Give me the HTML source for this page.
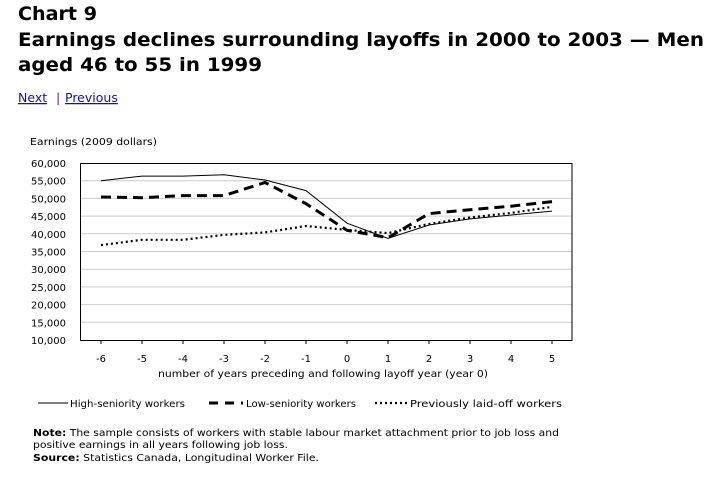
<!DOCTYPE html>
<html><head><meta charset="utf-8"><style>
body{margin:0;background:#fff;width:715px;height:472px;overflow:hidden}
svg text{font-family:"DejaVu Sans","Liberation Sans",sans-serif}
</style></head><body>
<svg width="715" height="472" xmlns="http://www.w3.org/2000/svg">
<g font-weight="bold" font-size="19" fill="#000">
<text x="18" y="20" textLength="79" lengthAdjust="spacingAndGlyphs">Chart 9</text>
<text x="18" y="46" textLength="686" lengthAdjust="spacingAndGlyphs">Earnings declines surrounding layoffs in 2000 to 2003 — Men</text>
<text x="18" y="71" textLength="244" lengthAdjust="spacingAndGlyphs">aged 46 to 55 in 1999</text>
</g>
<g font-size="12.5" fill="#1a0dab">
<text x="18" y="102" text-decoration="underline">Next</text>
<text x="56" y="102" fill="#551a8b">|</text>
<text x="65" y="102" text-decoration="underline">Previous</text>
</g>
<text x="30" y="145" font-size="10" textLength="127" lengthAdjust="spacingAndGlyphs">Earnings (2009 dollars)</text>
<g stroke="#ccc" stroke-width="1">
<line x1="80" x2="572" y1="180.7" y2="180.7"/><line x1="80" x2="572" y1="198.4" y2="198.4"/>
<line x1="80" x2="572" y1="216.1" y2="216.1"/><line x1="80" x2="572" y1="233.8" y2="233.8"/>
<line x1="80" x2="572" y1="251.5" y2="251.5"/><line x1="80" x2="572" y1="269.2" y2="269.2"/>
<line x1="80" x2="572" y1="286.9" y2="286.9"/><line x1="80" x2="572" y1="304.6" y2="304.6"/>
<line x1="80" x2="572" y1="322.3" y2="322.3"/>
</g>
<rect x="80.5" y="163.5" width="491.5" height="177" fill="none" stroke="#000"/>
<g font-size="10" text-anchor="end">
<text x="66" y="167">60,000</text><text x="66" y="184.7">55,000</text><text x="66" y="202.4">50,000</text>
<text x="66" y="220.1">45,000</text><text x="66" y="237.8">40,000</text><text x="66" y="255.5">35,000</text>
<text x="66" y="273.2">30,000</text><text x="66" y="290.9">25,000</text><text x="66" y="308.6">20,000</text>
<text x="66" y="326.3">15,000</text><text x="66" y="344">10,000</text>
</g>
<g stroke="#000">
<line x1="101" x2="101" y1="340" y2="344"/><line x1="142" x2="142" y1="340" y2="344"/><line x1="183" x2="183" y1="340" y2="344"/>
<line x1="224" x2="224" y1="340" y2="344"/><line x1="265" x2="265" y1="340" y2="344"/><line x1="306" x2="306" y1="340" y2="344"/>
<line x1="347" x2="347" y1="340" y2="344"/><line x1="388" x2="388" y1="340" y2="344"/><line x1="429" x2="429" y1="340" y2="344"/>
<line x1="470" x2="470" y1="340" y2="344"/><line x1="511" x2="511" y1="340" y2="344"/><line x1="552" x2="552" y1="340" y2="344"/>
</g>
<g font-size="10" text-anchor="middle">
<text x="101" y="362">-6</text><text x="142" y="362">-5</text><text x="183" y="362">-4</text><text x="224" y="362">-3</text>
<text x="265" y="362">-2</text><text x="306" y="362">-1</text><text x="347" y="362">0</text><text x="388" y="362">1</text>
<text x="429" y="362">2</text><text x="470" y="362">3</text><text x="511" y="362">4</text><text x="552" y="362">5</text>
</g>
<text x="158" y="377" font-size="10" textLength="330" lengthAdjust="spacingAndGlyphs">number of years preceding and following layoff year (year 0)</text>
<g fill="none" stroke="#000">
<polyline stroke-width="1" points="101,180.7 142,176.1 183,176.1 224,174.7 265,180 306,190.6 347,223.2 388,238.4 429,225 470,218.9 511,215 552,211.1"/>
<polyline stroke-width="3" stroke-dasharray="10,6" points="101,197 142,197.7 183,195.6 224,195.6 265,182.5 306,203.7 347,230.3 388,237.7 429,213.6 470,209.7 511,206.2 552,201.6"/>
<polyline stroke-width="2.2" stroke-dasharray="2,3" points="101,245.1 142,239.8 183,239.8 224,234.9 265,232.4 306,226 347,229.9 388,233.1 429,223.9 470,217.5 511,212.9 552,206.9"/>
</g>
<g stroke="#000" fill="none">
<line x1="38" x2="68" y1="403" y2="403"/>
<line x1="209" x2="243" y1="403" y2="403" stroke-width="3" stroke-dasharray="9,7"/>
<line x1="375" x2="408" y1="403" y2="403" stroke-width="2.2" stroke-dasharray="2,3"/>
</g>
<g font-size="10">
<text x="70" y="407" textLength="115" lengthAdjust="spacingAndGlyphs">High-seniority workers</text>
<text x="246" y="407" textLength="110" lengthAdjust="spacingAndGlyphs">Low-seniority workers</text>
<text x="410" y="407" textLength="152" lengthAdjust="spacingAndGlyphs">Previously laid-off workers</text>
<text x="33" y="436" textLength="526" lengthAdjust="spacingAndGlyphs"><tspan font-weight="bold">Note:</tspan> The sample consists of workers with stable labour market attachment prior to job loss and</text>
<text x="33" y="448" textLength="255" lengthAdjust="spacingAndGlyphs">positive earnings in all years following job loss.</text>
<text x="33" y="461" textLength="286" lengthAdjust="spacingAndGlyphs"><tspan font-weight="bold">Source:</tspan> Statistics Canada, Longitudinal Worker File.</text>
</g>
</svg>
</body></html>
